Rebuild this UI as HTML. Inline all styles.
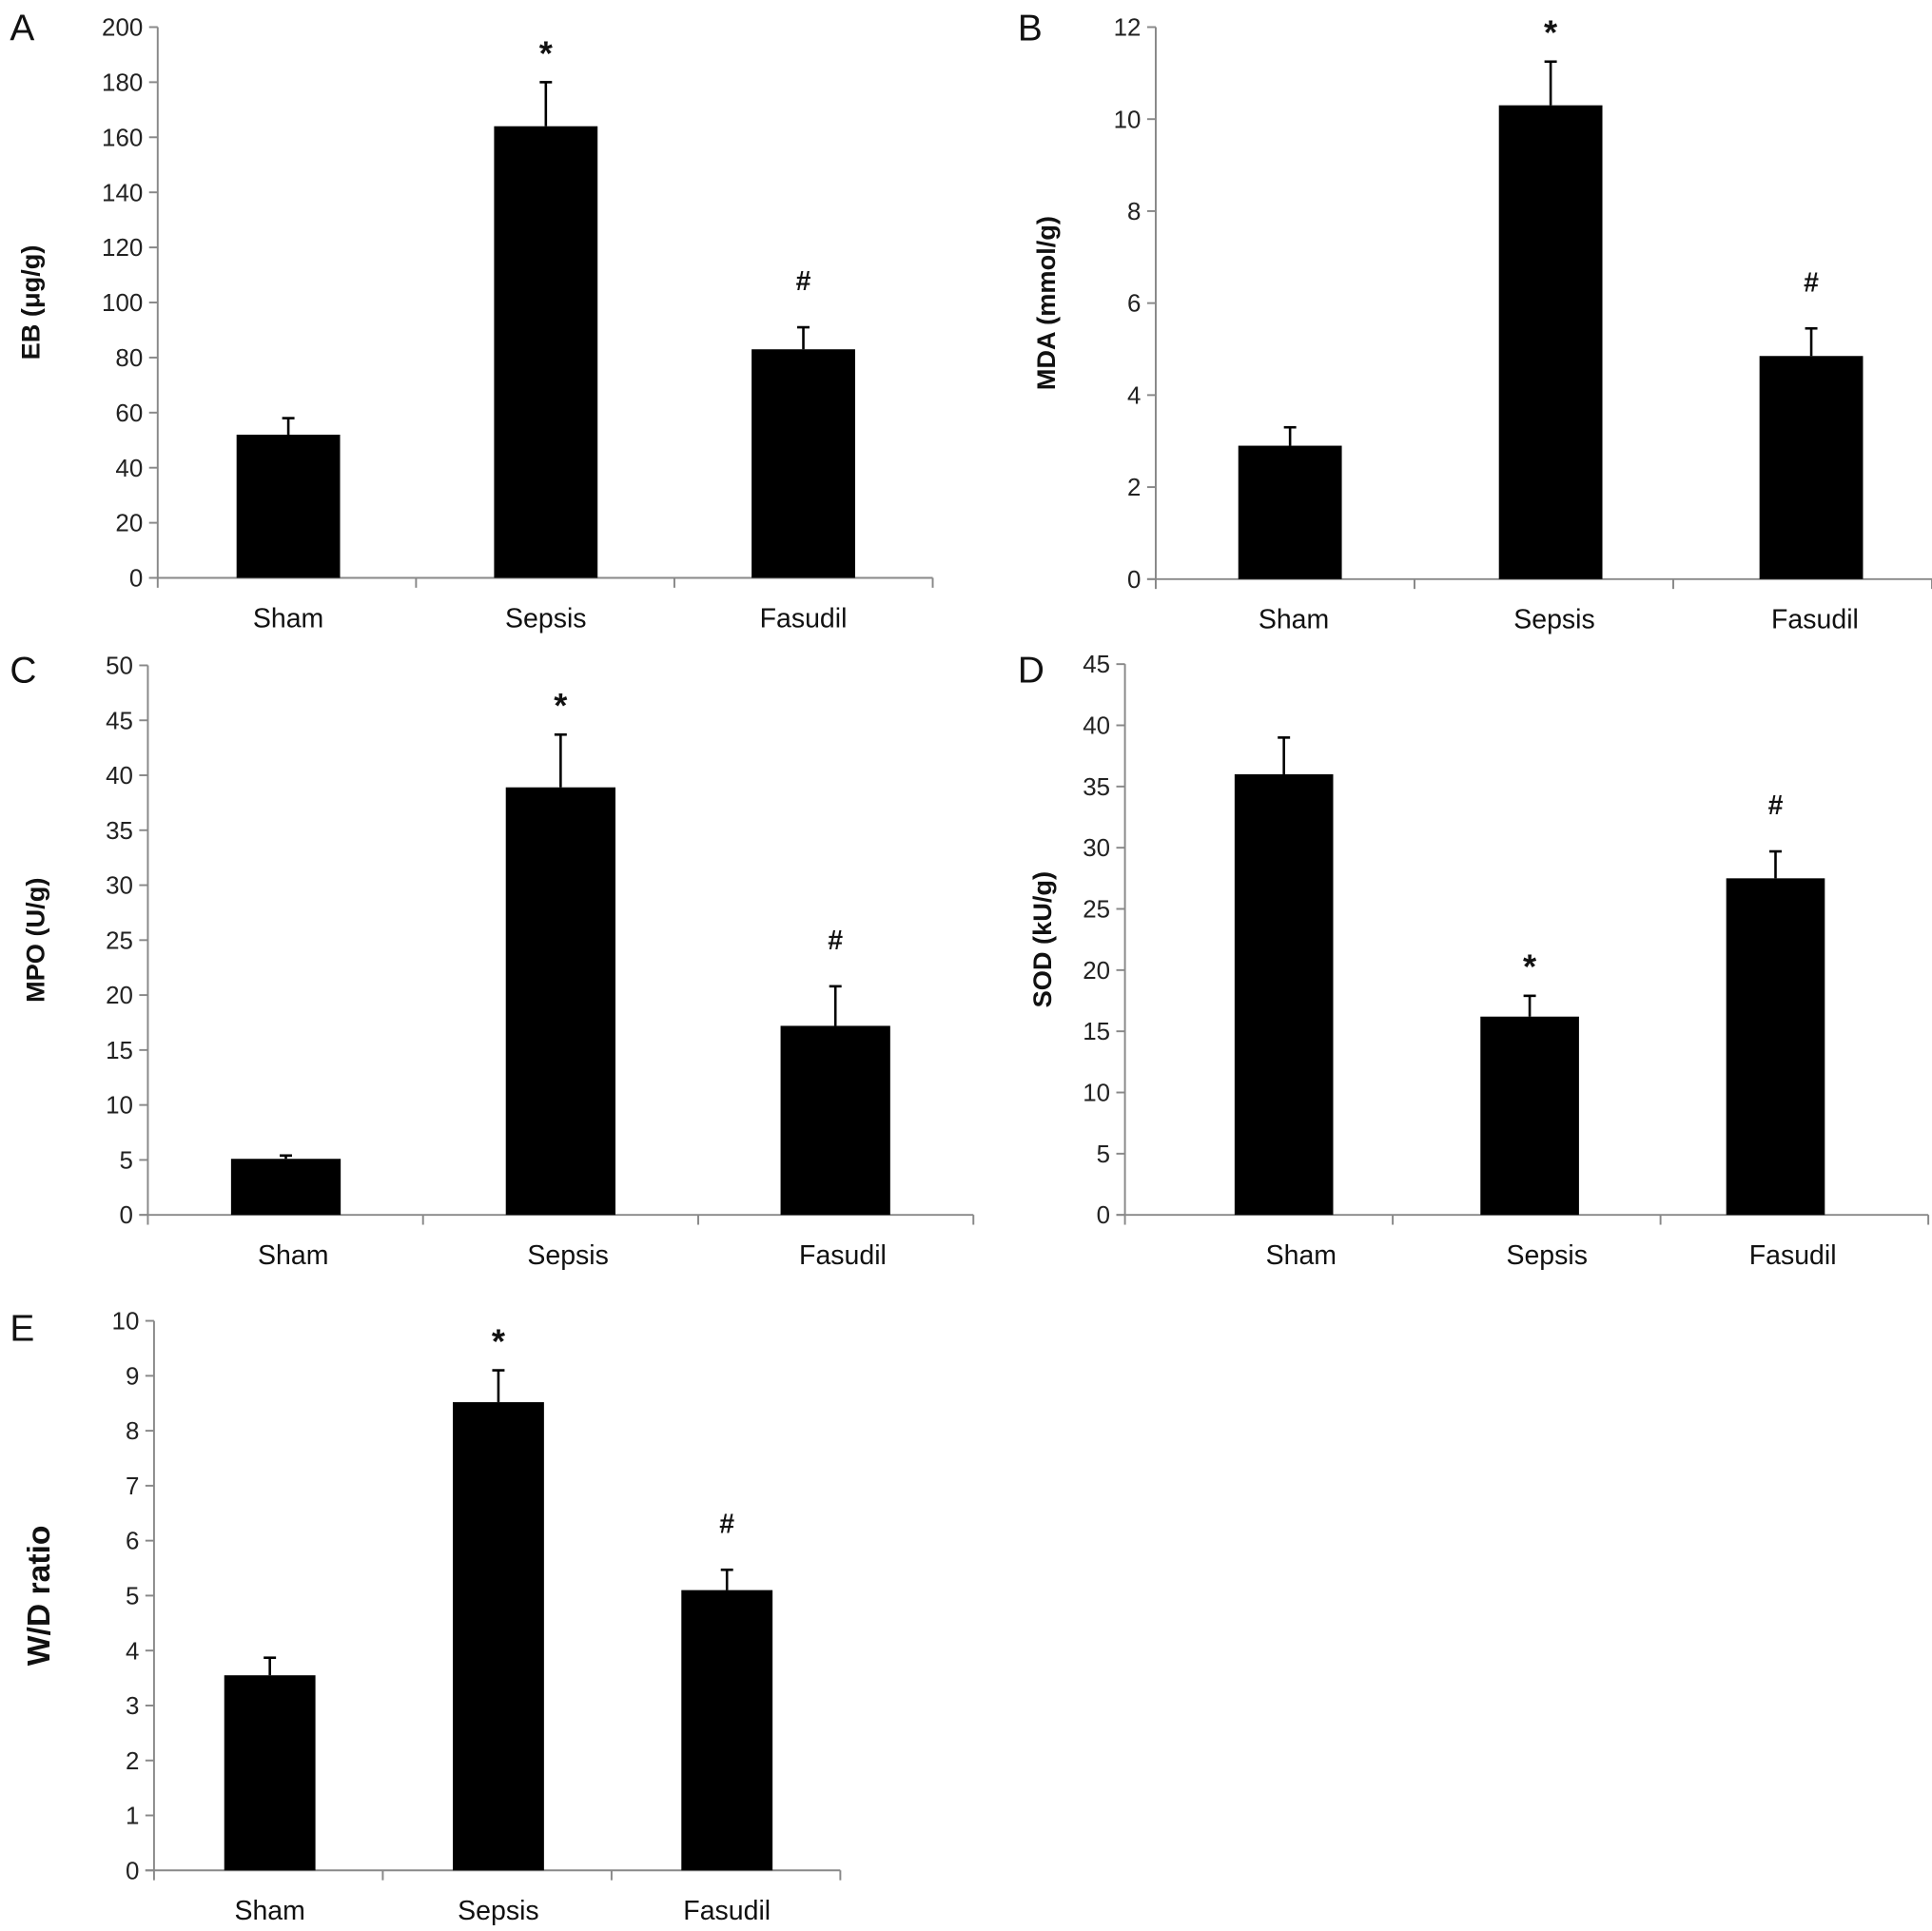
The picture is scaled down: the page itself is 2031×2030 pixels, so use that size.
<!DOCTYPE html>
<html><head><meta charset="utf-8"><style>
html,body{margin:0;padding:0;background:#fff}
svg{display:block}
text{font-family:"Liberation Sans",sans-serif}
</style></head><body>
<svg id="fig" width="2031" height="2030" viewBox="0 0 1568 1567.2" preserveAspectRatio="none" xmlns="http://www.w3.org/2000/svg"></svg>
<script>
const categories = ["Sham", "Sepsis", "Fasudil"];
const ebValues = [52, 164, 83];
const ebErrors = [6, 16, 8];
const ebTicks = [0, 20, 40, 60, 80, 100, 120, 140, 160, 180, 200];
const mdaValues = [2.9, 10.3, 4.85];
const mdaErrors = [0.4, 0.95, 0.6];
const mdaTicks = [0, 2, 4, 6, 8, 10, 12];
const mpoValues = [5.1, 38.9, 17.2];
const mpoErrors = [0.3, 4.8, 3.6];
const mpoTicks = [0, 5, 10, 15, 20, 25, 30, 35, 40, 45, 50];
const sodValues = [36, 16.2, 27.5];
const sodErrors = [3, 1.7, 2.2];
const sodTicks = [0, 5, 10, 15, 20, 25, 30, 35, 40, 45];
const wdValues = [3.55, 8.52, 5.1];
const wdErrors = [0.32, 0.58, 0.37];
const wdTicks = [0, 1, 2, 3, 4, 5, 6, 7, 8, 9, 10];
const ebMarks = ["", "*", "#"];
const mdaMarks = ["", "*", "#"];
const mpoMarks = ["", "*", "#"];
const sodMarks = ["", "*", "#"];
const wdMarks = ["", "*", "#"];

const svg = document.getElementById('fig');
const NS = 'http://www.w3.org/2000/svg';
function mk(tag, attrs, parent){
  const e = document.createElementNS(NS, tag);
  for (const k in attrs) e.setAttribute(k, attrs[k]);
  (parent || svg).appendChild(e);
  return e;
}

function panel(cfg, values, errors, ticks, marks){
  const g = mk('g', {});
  
  
  const maxV = ticks[ticks.length - 1];
  const y = v => cfg.y0 - (v / maxV) * (cfg.y0 - cfg.yTop);
  const n = categories.length;
  const slot = (cfg.xEnd - cfg.x0) / n;
  const cx = i => cfg.c0 + cfg.cs * i;

  const letter = mk('text', {x: cfg.lx, y: cfg.ly, 'font-size': 30, fill: '#111'}, g);
  letter.textContent = cfg.letter;
  
  

  const ya = mk('line', {x1: cfg.x0, y1: cfg.yTop, x2: cfg.x0, y2: cfg.y0, stroke: '#888', 'stroke-width': 1.5}, g);
  
  
  const xa = mk('line', {x1: cfg.x0 - 7, y1: cfg.y0, x2: cfg.xEnd, y2: cfg.y0, stroke: '#888', 'stroke-width': 1.5}, g);
  
  

  ticks.forEach(t => {
    const yy = y(t);
    const tl = mk('line', {x1: cfg.x0 - 7, y1: yy, x2: cfg.x0, y2: yy, stroke: '#888', 'stroke-width': 1.5}, g);
    
    
    const tx = mk('text', {x: cfg.x0 - 12, y: yy + 7, 'font-size': 20, 'text-anchor': 'end', fill: '#222'}, g);
    tx.textContent = t;
    
    
  });
  for (let i = 0; i <= n; i++){
    const xx = cfg.x0 + slot * i;
    const tk = mk('line', {x1: xx, y1: cfg.y0, x2: xx, y2: cfg.y0 + 8, stroke: '#888', 'stroke-width': 1.5}, g);
    
    
  }
  categories.forEach((c, i) => {
    const w = cfg.bw;
    const top = y(values[i]);
    const bar = mk('rect', {x: cx(i) - w / 2, y: top, width: w, height: cfg.y0 - top, fill: '#000'}, g);
    
    
    const et = y(values[i] + errors[i]);
    const el = mk('line', {x1: cx(i), y1: top, x2: cx(i), y2: et, stroke: '#000', 'stroke-width': 2}, g);
    
    
    const ec = mk('line', {x1: cx(i) - 5, y1: et, x2: cx(i) + 5, y2: et, stroke: '#000', 'stroke-width': 2}, g);
    
    
    if (marks[i]){
      const isStar = marks[i] === '*';
      const m = mk('text', {x: cx(i), y: et - (isStar ? 14 : 30), 'font-size': isStar ? 28 : 22, 'font-weight': 'bold', 'text-anchor': 'middle', fill: '#111'}, g);
      m.textContent = marks[i];
      
      
    }
    const cl = mk('text', {x: cx(i) + (cfg.lo || 0), y: cfg.y0 + 40, 'font-size': 22, 'text-anchor': 'middle', fill: '#111'}, g);
    cl.textContent = c;
    
    
  });
  const yc = (cfg.y0 + cfg.yTop) / 2;
  const tt = mk('text', {x: cfg.tx, y: yc, 'font-size': cfg.tfs, 'font-weight': 'bold', 'text-anchor': 'middle', fill: '#111', transform: 'rotate(-90 ' + cfg.tx + ' ' + yc + ')'}, g);
  tt.textContent = cfg.title;
  
  
}

panel({letter:'A', lx:8, ly:33, x0:128, xEnd:757, yTop:22, y0:469, bw:84, c0:234, cs:209, tx:32, tfs:21, title:'EB (μg/g)'}, ebValues, ebErrors, ebTicks, ebMarks);
panel({letter:'B', lx:826, ly:33, x0:938, xEnd:1568, yTop:22, y0:470, bw:84, c0:1047, cs:211.5, lo:3, tx:856, tfs:21, title:'MDA (mmol/g)'}, mdaValues, mdaErrors, mdaTicks, mdaMarks);
panel({letter:'C', lx:8, ly:554, x0:120, xEnd:790, yTop:540, y0:986, bw:89, c0:232, cs:223, lo:6, tx:36, tfs:21, title:'MPO (U/g)'}, mpoValues, mpoErrors, mpoTicks, mpoMarks);
panel({letter:'D', lx:826, ly:554, x0:913, xEnd:1565, yTop:539, y0:986, bw:80, c0:1042, cs:199.5, lo:14, tx:853, tfs:21, title:'SOD (kU/g)'}, sodValues, sodErrors, sodTicks, sodMarks);
panel({letter:'E', lx:8, ly:1088, x0:125, xEnd:682, yTop:1072, y0:1518, bw:74, c0:219, cs:185.5, tx:40, tfs:26, title:'W/D ratio'}, wdValues, wdErrors, wdTicks, wdMarks);
</script>
</body></html>
